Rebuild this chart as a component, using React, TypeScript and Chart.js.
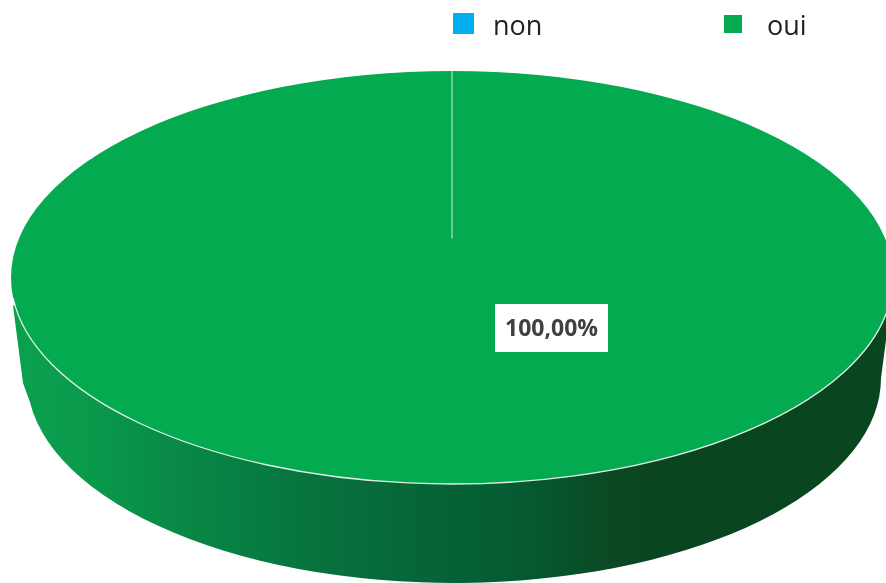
import React, { useEffect, useRef } from "react";
import { Chart, registerables } from "chart.js";

Chart.register(...registerables);

const categories = ["non", "oui"];
const seriesValues = [0, 100];
const sliceColors = ["#00b0f0", "#04aa4f"];
const sideStops: [number, string][] = [
  [0, "#0ba04e"],
  [0.085, "#0a984b"],
  [0.2, "#088545"],
  [0.32, "#07753f"],
  [0.46, "#066538"],
  [0.555, "#055d33"],
  [0.635, "#07522b"],
  [0.67, "#0b4a25"],
  [0.73, "#0a4520"],
  [1, "#08461f"],
];

const W = 886;
const H = 583;
const TOP = { cx: 452, cy: 277.5, rx: 441, ry: 206.5 };
const BOTTOM = { cx: 454, cy: 378, rx: 427, ry: 205 };

const pie3d = {
  id: "pie3d",
  beforeDatasetsDraw(chart: any) {
    const ctx = chart.ctx;
    const arc = chart.getDatasetMeta(0).data[1];
    const R = arc.outerRadius;
    // side wall
    ctx.save();
    const g = ctx.createLinearGradient(BOTTOM.cx - BOTTOM.rx, 0, BOTTOM.cx + BOTTOM.rx, 0);
    sideStops.forEach(([o, c]) => g.addColorStop(o, c));
    ctx.fillStyle = g;
    ctx.beginPath();
    ctx.moveTo(TOP.cx - TOP.rx + 2, TOP.cy + 28);
    ctx.lineTo(BOTTOM.cx - BOTTOM.rx - 4, BOTTOM.cy + 5);
    ctx.ellipse(BOTTOM.cx, BOTTOM.cy, BOTTOM.rx, BOTTOM.ry, 0, Math.PI - 0.118, 0, true);
    ctx.lineTo(TOP.cx + TOP.rx - 3, TOP.cy + 32);
    ctx.closePath();
    ctx.fill();
    ctx.restore();
    // flatten the pie top
    ctx.save();
    ctx.translate(TOP.cx, TOP.cy);
    ctx.scale(TOP.rx / R, TOP.ry / R);
    ctx.translate(-arc.x, -arc.y);
  },
  afterDatasetsDraw(chart: any) {
    const ctx = chart.ctx;
    ctx.restore();
    // rim highlight
    ctx.save();
    ctx.strokeStyle = "rgba(235,245,238,0.95)";
    ctx.lineWidth = 1.3;
    ctx.beginPath();
    ctx.ellipse(TOP.cx, TOP.cy, TOP.rx, TOP.ry, 0, 0.1, Math.PI - 0.1);
    ctx.stroke();
    // seam between the slices
    ctx.strokeStyle = "rgba(170,215,190,0.85)";
    ctx.lineWidth = 1.5;
    ctx.beginPath();
    ctx.moveTo(TOP.cx, TOP.cy - TOP.ry);
    ctx.lineTo(TOP.cx, TOP.cy - 39);
    ctx.stroke();
    ctx.restore();
  },
  afterDraw(chart: any) {
    const ctx = chart.ctx;
    ctx.save();
    // data label
    const total = seriesValues.reduce((a, b) => a + b, 0);
    const label = ((seriesValues[1] / total) * 100).toFixed(2).replace(".", ",") + "%";
    ctx.fillStyle = "#ffffff";
    ctx.fillRect(495, 304, 113, 48);
    ctx.fillStyle = "#404040";
    ctx.font = "700 23px 'Open Sans'";
    ctx.textAlign = "center";
    ctx.textBaseline = "middle";
    ctx.fillText(label, 551.5, 329);
    // legend
    const boxes = [
      { x: 453, y: 13, s: 21, tx: 493 },
      { x: 724, y: 15, s: 18, tx: 767 },
    ];
    ctx.font = "27px 'Open Sans'";
    ctx.textAlign = "left";
    ctx.textBaseline = "alphabetic";
    categories.forEach((c, i) => {
      const b = boxes[i];
      ctx.fillStyle = sliceColors[i];
      ctx.fillRect(b.x, b.y, b.s, b.s);
      ctx.fillStyle = "#231f20";
      ctx.fillText(c, b.tx, 35);
    });
    ctx.restore();
  },
};

export default function App() {
  const ref = useRef<HTMLCanvasElement>(null);
  useEffect(() => {
    const chart = new Chart(ref.current as HTMLCanvasElement, {
      type: "pie",
      data: {
        labels: categories,
        datasets: [{ data: seriesValues, backgroundColor: sliceColors, borderWidth: 0 }],
      },
      options: {
        animation: false,
        responsive: false,
        devicePixelRatio: 1,
        layout: { padding: 0 },
        plugins: { legend: { display: false }, tooltip: { enabled: false } },
      },
      plugins: [pie3d],
    } as any);
    return () => chart.destroy();
  }, []);
  return (
    <canvas
      ref={ref}
      width={W}
      height={H}
      style={{ position: "fixed", left: 0, top: 0, width: W, height: H, display: "block" }}
    />
  );
}
